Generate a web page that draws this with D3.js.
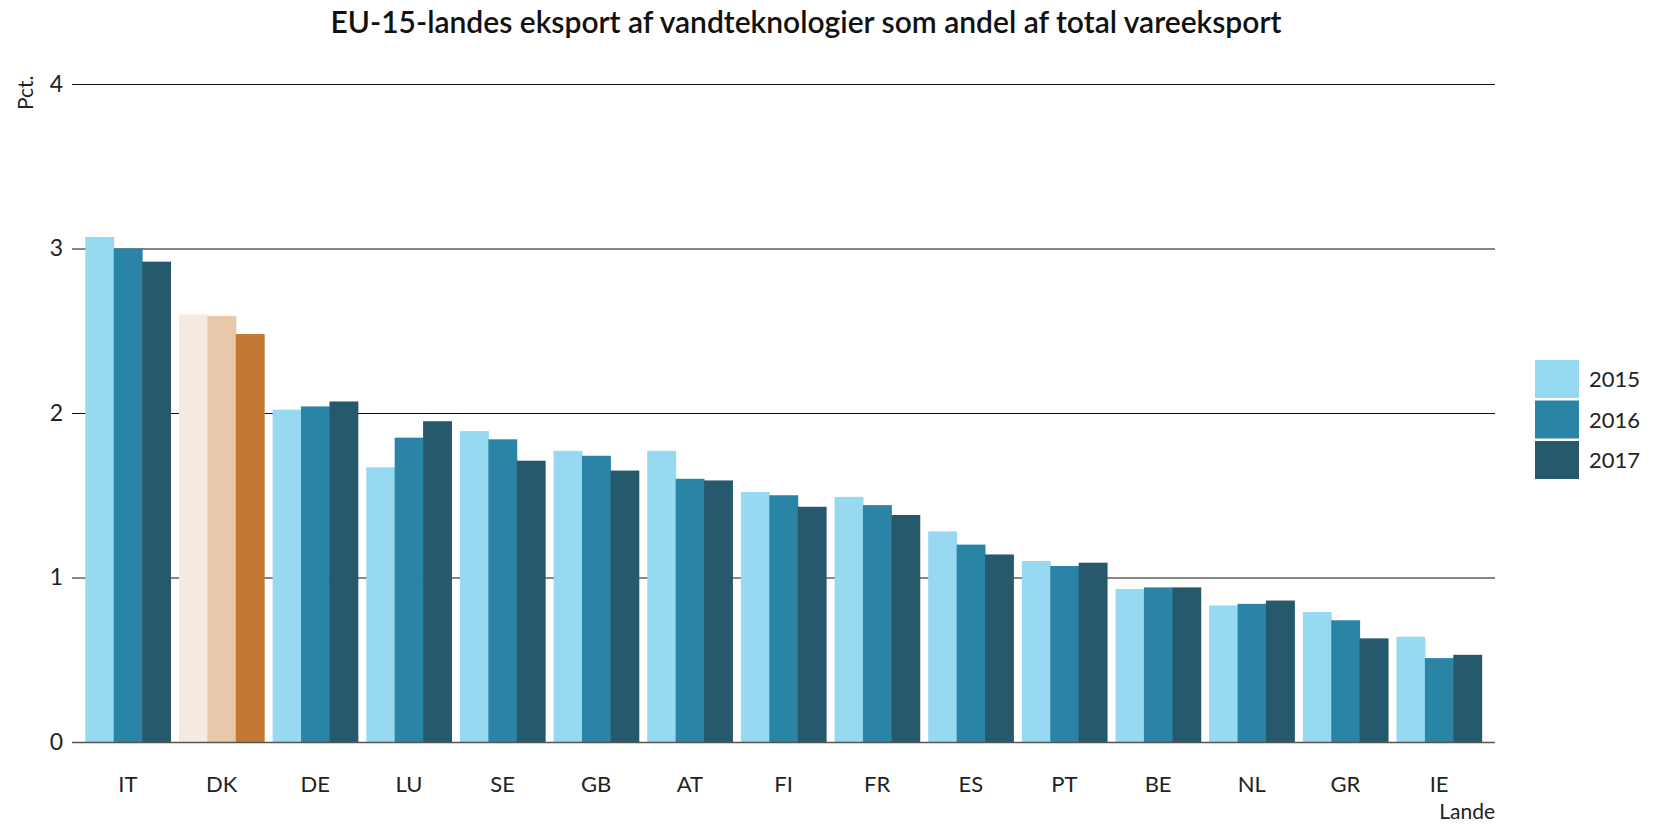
<!DOCTYPE html>
<html>
<head>
<meta charset="utf-8">
<script src="https://cdn.jsdelivr.net/npm/d3@7"></script>
<style>
  html, body { margin: 0; padding: 0; background: #fff; }
  svg { display: block; font-family: Lato, 'Open Sans', sans-serif; }
</style>
</head>
<body>
<div id="chart"></div>
<script>
// ─── Data ───
var countries = ['IT', 'DK', 'DE', 'LU', 'SE', 'GB', 'AT', 'FI', 'FR', 'ES', 'PT', 'BE', 'NL', 'GR', 'IE'];
var years = ['2015', '2016', '2017'];
var v2015 = [3.07, 2.60, 2.02, 1.67, 1.89, 1.77, 1.77, 1.52, 1.49, 1.28, 1.10, 0.93, 0.83, 0.79, 0.64];
var v2016 = [3.00, 2.59, 2.04, 1.85, 1.84, 1.74, 1.60, 1.50, 1.44, 1.20, 1.07, 0.94, 0.84, 0.74, 0.51];
var v2017 = [2.92, 2.48, 2.07, 1.95, 1.71, 1.65, 1.59, 1.43, 1.38, 1.14, 1.09, 0.94, 0.86, 0.63, 0.53];
var yTicks = [0, 1, 2, 3, 4];

var colors = { '2015': '#98d9f2', '2016': '#2a84a5', '2017': '#27596d' };
var dkColors = { '2015': '#f5ebe1', '2016': '#e8c8a9', '2017': '#c27833' };

function drawChart() {
  var W = 1667, H = 824;
  var x0 = 72, x1 = 1495, yTop = 84, yBase = 742;
  var series = { '2015': v2015, '2016': v2016, '2017': v2017 };

  var svg = d3.select('#chart').append('svg').attr('width', W).attr('height', H);

  var x = d3.scaleBand().domain(countries).range([x0 + 3, x1 - 3]).paddingInner(0.09).paddingOuter(0.11);
  var xs = d3.scaleBand().domain(years).range([0, x.bandwidth()]);
  var y = d3.scaleLinear().domain([0, 4]).range([yBase, yTop]);

  // Title
  svg.append('text').attr('x', 806).attr('y', 33).attr('text-anchor', 'middle')
    .attr('font-size', '30px').attr('font-weight', '600').attr('fill', '#111')
    .text('EU-15-landes eksport af vandteknologier som andel af total vareeksport');

  // Gridlines + y ticks
  var yAxis = d3.axisLeft(y).tickValues(yTicks).tickSize(-(x1 - x0)).tickPadding(9).tickFormat(d3.format('d'));
  var gy = svg.append('g').attr('transform', 'translate(' + x0 + ',0)').call(yAxis);
  gy.select('.domain').remove();
  gy.selectAll('.tick line').attr('stroke-width', 1.2)
    .attr('stroke', function(d) { return d === 0 ? '#555' : '#111'; });
  gy.selectAll('.tick text').attr('font-size', '23px').attr('fill', '#222').attr('font-family', 'Lato, sans-serif');

  // Y label
  svg.append('text').attr('transform', 'translate(33,110) rotate(-90)').attr('text-anchor', 'start')
    .attr('font-size', '21px').attr('fill', '#222').text('Pct.');

  // Bars
  var groups = svg.append('g').selectAll('g').data(countries).join('g')
    .attr('transform', function(d) { return 'translate(' + x(d) + ',0)'; });
  groups.selectAll('rect').data(function(c, i) {
    return years.map(function(yr) { return { c: c, year: yr, value: series[yr][i] }; });
  }).join('rect')
    .attr('x', function(d) { return xs(d.year); })
    .attr('width', xs.bandwidth() + 0.5)
    .attr('y', function(d) { return y(d.value); })
    .attr('height', function(d) { return yBase - y(d.value); })
    .attr('fill', function(d) { return d.c === 'DK' ? dkColors[d.year] : colors[d.year]; });

  // Baseline on top
  svg.append('line').attr('x1', x0).attr('x2', x1).attr('y1', yBase + 0.5).attr('y2', yBase + 0.5)
    .attr('stroke', '#555').attr('stroke-width', 1.5);

  // X labels
  var xAxis = d3.axisBottom(x).tickSize(0).tickPadding(0);
  var gx = svg.append('g').attr('transform', 'translate(0,' + (yBase + 34) + ')').call(xAxis);
  gx.select('.domain').remove();
  gx.selectAll('.tick text').attr('font-size', '22px').attr('fill', '#222').attr('font-family', 'Lato, sans-serif');

  svg.append('text').attr('x', x1).attr('y', 819).attr('text-anchor', 'end')
    .attr('font-size', '21px').attr('fill', '#222').text('Lande');

  // Legend
  var legend = svg.append('g').attr('transform', 'translate(1535,360)');
  years.forEach(function(yr, i) {
    legend.append('rect').attr('x', 0).attr('y', i * 40.5).attr('width', 44).attr('height', 38).attr('fill', colors[yr]);
    legend.append('text').attr('x', 54).attr('y', i * 40.5 + 27).text(yr)
      .attr('font-size', '22px').attr('fill', '#222');
  });
}

drawChart();
</script>
</body>
</html>
